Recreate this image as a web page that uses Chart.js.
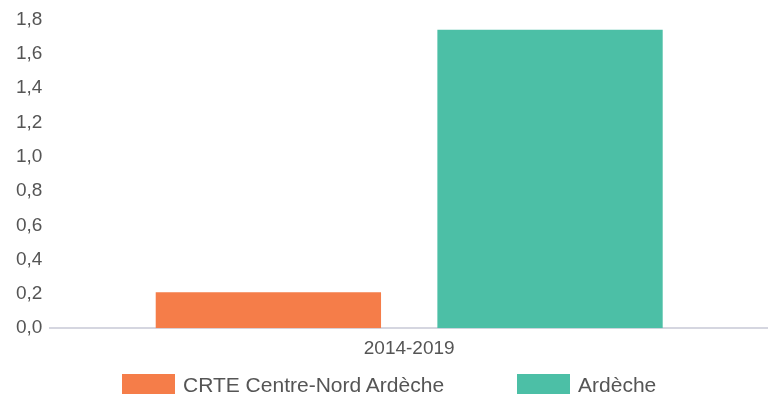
<!DOCTYPE html>
<html lang="fr">
<head>
<meta charset="utf-8">
<script src="https://cdn.jsdelivr.net/npm/chart.js@4"></script>
<style>
    html, body { margin: 0; padding: 0; background: #fff; overflow: hidden; }
    #wrap { position: relative; width: 768px; height: 394px; }
    #legend {
        position: absolute; left: 122px; top: 373px;
        display: flex; align-items: center;
        font-family: "Liberation Sans", Arial, sans-serif; font-size: 21px; color: #555;
    }
    .item { display: flex; align-items: center; margin-right: 73px; }
    .box { width: 53px; height: 22px; margin-right: 8px; }
</style>
</head>
<body>
<div id="wrap">
    <canvas id="chart" width="768" height="394"></canvas>
    <div id="legend"></div>
</div>
<script>
const categories = ['2014-2019'];
const seriesNames = ['CRTE Centre-Nord Ardèche', 'Ardèche'];
const crteValues = [0.21];
const ardecheValues = [1.74];
const seriesColors = ['#f57d49', '#4cbfa6'];
const yTicks = ['0,0', '0,2', '0,4', '0,6', '0,8', '1,0', '1,2', '1,4', '1,6', '1,8'];

const textColor = '#555';
const fontFamily = '"Liberation Sans", Arial, sans-serif';

const ctx = document.getElementById('chart').getContext('2d');
const chart = new Chart(ctx, {
    type: 'bar',
    data: {
        labels: categories,
        datasets: [
            { label: seriesNames[0], data: crteValues, backgroundColor: seriesColors[0] },
            { label: seriesNames[1], data: ardecheValues, backgroundColor: seriesColors[1] }
        ]
    },
    options: {
        responsive: false,
        animation: false,
        layout: { padding: { left: 8, right: 0, top: 13, bottom: 25 } },
        datasets: {
            bar: { categoryPercentage: 0.785, barPercentage: 0.8 }
        },
        plugins: {
            legend: { display: false },
            tooltip: { enabled: false }
        },
        scales: {
            x: {
                grid: { display: false, drawTicks: false },
                border: { display: true, color: '#d5d6e0', width: 2 },
                ticks: { color: textColor, padding: 9, font: { family: fontFamily, size: 19 } }
            },
            y: {
                min: 0,
                max: 1.8,
                grid: { display: false, drawTicks: false },
                border: { display: false },
                ticks: {
                    stepSize: 0.2,
                    padding: 8,
                    color: textColor,
                    font: { family: fontFamily, size: 19 },
                    callback: (value, index) => yTicks[index]
                }
            }
        }
    }
});

// légende HTML
const legend = document.getElementById('legend');
chart.data.datasets.forEach(ds => {
    const item = document.createElement('div');
    item.className = 'item';
    item.innerHTML = `<span class="box" style="background:${ds.backgroundColor}"></span><span>${ds.label}</span>`;
    legend.appendChild(item);
});
</script>
</body>
</html>
